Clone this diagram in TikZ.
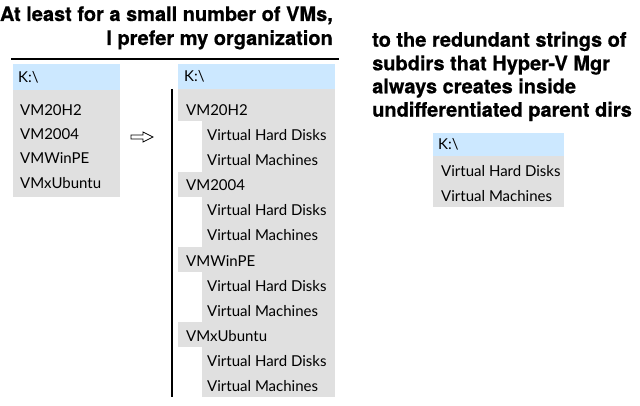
\documentclass[tikz,border=0pt]{standalone}
\usepackage{fontspec}
\newfontfamily\titlefam[BoldFeatures={FakeBold=0.6}]{TeX Gyre Heros}
\newfontfamily\treefam{Lato}
\definecolor{hdrblue}{HTML}{CCE8FF}
\definecolor{rowgray}{HTML}{E0E0E0}
\begin{document}
\begin{tikzpicture}[x=1pt,y=-1pt,
  titletext/.style={inner sep=0pt,font=\titlefam\bfseries\fontsize{20}{24}\selectfont},
  treetext/.style={anchor=base west,inner sep=0pt,font=\treefam\fontsize{15}{17}\selectfont},
  hdr/.style={fill=hdrblue},
  rowbg/.style={fill=rowgray},
  rule/.style={line width=1.3pt}]
\useasboundingbox (0,0) rectangle (640,406);
% titles
\node[titletext,anchor=base east] (t1) at (333,21) {At least for a small number of VMs,};
\node[titletext,anchor=base east] (t2) at (333,45) {I prefer my organization};
\node[titletext,anchor=base west] (r1) at (372,46.7) {to the redundant strings of};
\node[titletext,anchor=base west] (r2) at (372,70.3) {subdirs that Hyper-V Mgr};
\node[titletext,anchor=base west] (r3) at (372,93.3) {always creates inside};
\node[titletext,anchor=base west] (r4) at (372,116.7) {undifferentiated parent dirs};
\coordinate (hl1) at (11,59);
\coordinate (hl2) at (339,59);
\draw[rule] (hl1) -- (hl2);
% left box
\fill[hdr] (13,64) rectangle (120,90);
\fill[rowbg] (13,90) rectangle (120,197);
\node[treetext] (lk) at (18,82.5) {K:\textbackslash};
\node[treetext] (l1) at (20,116) {VM20H2};
\node[treetext] (l2) at (20,140) {VM2004};
\node[treetext] (l3) at (20,164) {VMWinPE};
\node[treetext] (l4) at (20,188.5) {VMxUbuntu};
% arrow
\draw[line width=0.8pt,line join=miter] (131,135) -- (143,135) -- (143,132) -- (153,137) -- (143,142) -- (143,139) -- (131,139) -- cycle;
% vertical rule
\coordinate (v1) at (172,89);
\coordinate (v2) at (172,397);
\draw[rule] (v1) -- (v2);
% middle tree
\fill[hdr] (178,64) rectangle (335,89);
\fill[rowbg] (178,89) rectangle (335,121);
\fill[rowbg] (202,121) rectangle (335,172);
\fill[rowbg] (178,172) rectangle (335,197);
\fill[rowbg] (202,197) rectangle (335,247);
\fill[rowbg] (178,247) rectangle (335,272);
\fill[rowbg] (202,272) rectangle (335,322);
\fill[rowbg] (178,322) rectangle (335,347);
\fill[rowbg] (202,347) rectangle (335,397);
\node[treetext] (mk) at (184,82) {K:\textbackslash};
\node[treetext] (m1) at (186,116) {VM20H2};
\node[treetext] (m1a) at (207,141) {Virtual Hard Disks};
\node[treetext] (m1b) at (207,166) {Virtual Machines};
\node[treetext] (m2) at (186,191) {VM2004};
\node[treetext] (m2a) at (207,216) {Virtual Hard Disks};
\node[treetext] (m2b) at (207,241) {Virtual Machines};
\node[treetext] (m3) at (186,266) {VMWinPE};
\node[treetext] (m3a) at (207,291) {Virtual Hard Disks};
\node[treetext] (m3b) at (207,316) {Virtual Machines};
\node[treetext] (m4) at (186,341) {VMxUbuntu};
\node[treetext] (m4a) at (207,366) {Virtual Hard Disks};
\node[treetext] (m4b) at (207,391) {Virtual Machines};
% right box
\fill[hdr] (433,133) rectangle (564,156);
\fill[rowbg] (433,156) rectangle (564,207);
\node[treetext] (rk) at (438,150) {K:\textbackslash};
\node[treetext] (ra) at (441,177) {Virtual Hard Disks};
\node[treetext] (rb) at (441,201.5) {Virtual Machines};
\end{tikzpicture}
\end{document}
